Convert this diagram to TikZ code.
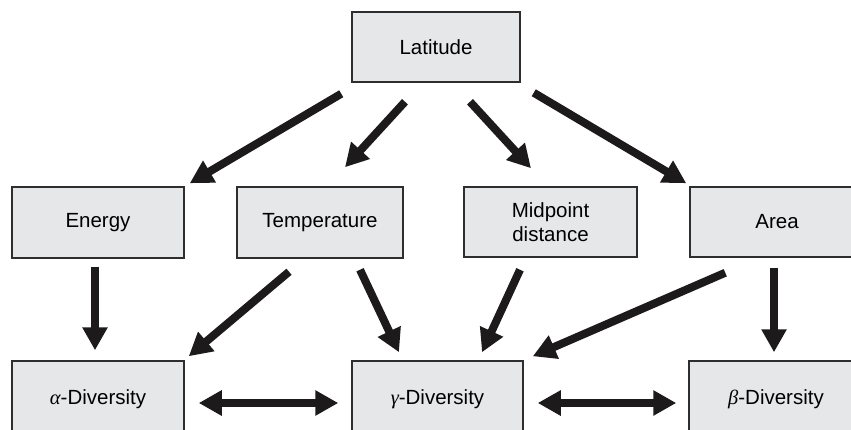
\documentclass[tikz,border=0pt]{standalone}
\usepackage{fontspec}
\setmainfont{Liberation Sans}
\newfontfamily\grk{Liberation Serif}
\usetikzlibrary{arrows.meta,calc}
\definecolor{boxfill}{HTML}{E6E7E8}
\definecolor{boxline}{HTML}{2E2E2E}
\definecolor{arrcol}{HTML}{1C1A1A}
\begin{document}
\begin{tikzpicture}[x=1pt,y=-1pt,
  box/.style={draw=boxline,line width=1.5pt,fill=boxfill,minimum height=70pt,inner sep=0pt,align=center,font=\fontsize{20.5}{24}\selectfont},
  arr/.style={draw=arrcol,line width=8pt,-{Triangle[length=23pt,width=24pt]}},
  darr/.style={draw=arrcol,line width=8pt,{Triangle[length=23pt,width=24pt]}-{Triangle[length=23pt,width=24pt]}}]
\useasboundingbox (0,0) rectangle (851,430);
\clip (0,0) rectangle (851,430);
\node[box,minimum width=168pt] (lat) at (436,47) {Latitude};
\node[box,minimum width=172pt,minimum height=71pt] (energy) at (98,222.5) {Energy};
\node[box,minimum width=166pt,minimum height=71pt] (temp) at (320,222.5) {Temperature};
\node[box,minimum width=173pt] (mid) at (550.5,222) {Midpoint\\distance};
\node[box,minimum width=174pt] (area) at (777,222) {Area};
\node[box,minimum width=172pt,minimum height=76pt] (alpha) at (98,399) {{\grk\itshape α}-Diversity};
\node[box,minimum width=171pt,minimum height=76pt] (gamma) at (437.5,399) {{\grk\itshape γ}-Diversity};
\node[box,minimum width=174pt,minimum height=76pt] (beta) at (776,399) {{\grk\itshape β}-Diversity};
\draw[arr] ($(lat.south west)+(-10,11)$) -- ($(energy.north east)+(5,-3)$);
\draw[arr] ($(lat.south)+(-31,19)$) -- ($(temp.north)+(25,-19)$);
\draw[arr] ($(lat.south)+(34,19)$) -- ($(mid.north)+(-19.5,-18)$);
\draw[arr] ($(lat.south east)+(13,10)$) -- ($(area.north west)+(-3,-3)$);
\draw[arr] ($(energy.south)+(-3,8)$) -- ($(alpha.north)+(-3,-10)$);
\draw[arr] ($(temp.south)+(-31,13)$) -- ($(alpha.north east)+(4,-4)$);
\draw[arr] ($(temp.south)+(40,11)$) -- ($(gamma.north)+(-38.5,-8)$);
\draw[arr] ($(mid.south)+(-30.5,12)$) -- ($(gamma.north)+(44.5,-8)$);
\draw[arr] ($(area.south west)+(36,15)$) -- ($(gamma.north east)+(9,-4)$);
\draw[arr] ($(area.south)+(-3,10)$) -- ($(beta.north)+(-2,-8)$);
\draw[darr] ($(alpha.east)+(14,4)$) -- ($(gamma.west)+(-13,4)$);
\draw[darr] ($(gamma.east)+(14,4)$) -- ($(beta.west)+(-12,4)$);
\end{tikzpicture}
\end{document}
